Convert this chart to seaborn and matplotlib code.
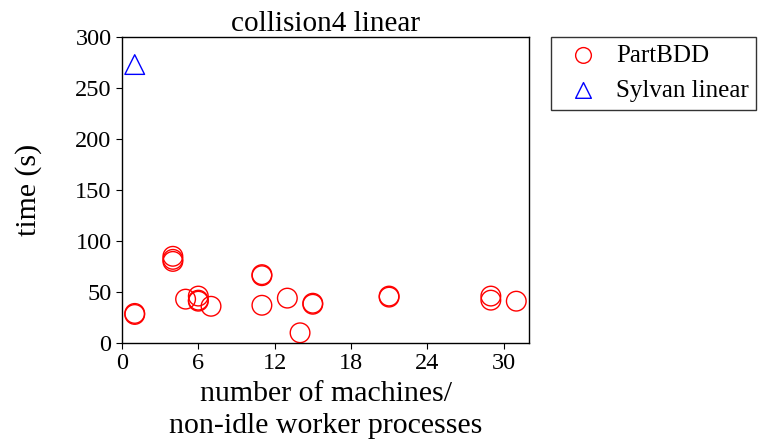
import matplotlib
matplotlib.use("Agg")
import matplotlib.pyplot as plt
import seaborn as sns
import pandas as pd

part_x = [1, 1, 4, 4, 4, 5, 6, 6, 6, 7, 11, 11, 11, 13, 14, 15, 15, 21, 21, 29, 29, 31]
part_y = [28, 29, 85, 82, 80, 43, 46, 42, 41, 36, 66, 67, 37, 44, 10, 38, 39, 45, 46, 46, 42, 41]
syl_x = [1]
syl_y = [273]

sns.set_style("ticks")
plt.rcParams['font.family'] = ['Liberation Serif', 'DejaVu Serif']
plt.rcParams['text.color'] = 'black'
plt.rcParams['axes.labelcolor'] = 'black'

df_p = pd.DataFrame({"x": part_x, "y": part_y})
df_s = pd.DataFrame({"x": syl_x, "y": syl_y})

fig = plt.figure(figsize=(7.58, 4.43), dpi=100)
ax = fig.add_axes([122/758, 1-343/443, (529-122)/758, (343-37)/443])

sns.scatterplot(data=df_p, x="x", y="y", ax=ax, marker="o", s=200,
                facecolor="none", edgecolor="red", linewidth=1.0, label="PartBDD")
sns.scatterplot(data=df_s, x="x", y="y", ax=ax, marker="^", s=200,
                facecolor="none", edgecolor="blue", linewidth=1.0, label="Sylvan linear")

ax.set_xlim(0, 32)
ax.set_ylim(0, 300)
ax.set_xticks([0, 6, 12, 18, 24, 30])
ax.set_yticks([0, 50, 100, 150, 200, 250, 300])
ax.tick_params(labelsize=17.5, colors="black", direction="out", length=4)
for s in ax.spines.values():
    s.set_color("black")
    s.set_linewidth(1.0)
ax.set_title("collision4 linear", fontsize=21, pad=3, color="black")
ax.set_xlabel("number of machines/\nnon-idle worker processes", fontsize=21.5, linespacing=1.3, labelpad=5)
ax.set_ylabel("time (s)", fontsize=21.5, labelpad=24)

leg = ax.legend(loc="upper left", bbox_to_anchor=(551/758, 1-37/443), bbox_transform=fig.transFigure,
                fontsize=18, frameon=True, fancybox=False, edgecolor="black", borderaxespad=0,
                handletextpad=0.3, markerscale=0.8, borderpad=0.3)
leg.get_frame().set_linewidth(1.0)
for t in leg.get_texts():
    t.set_color("black")

fig.savefig("out.png", dpi=100)
